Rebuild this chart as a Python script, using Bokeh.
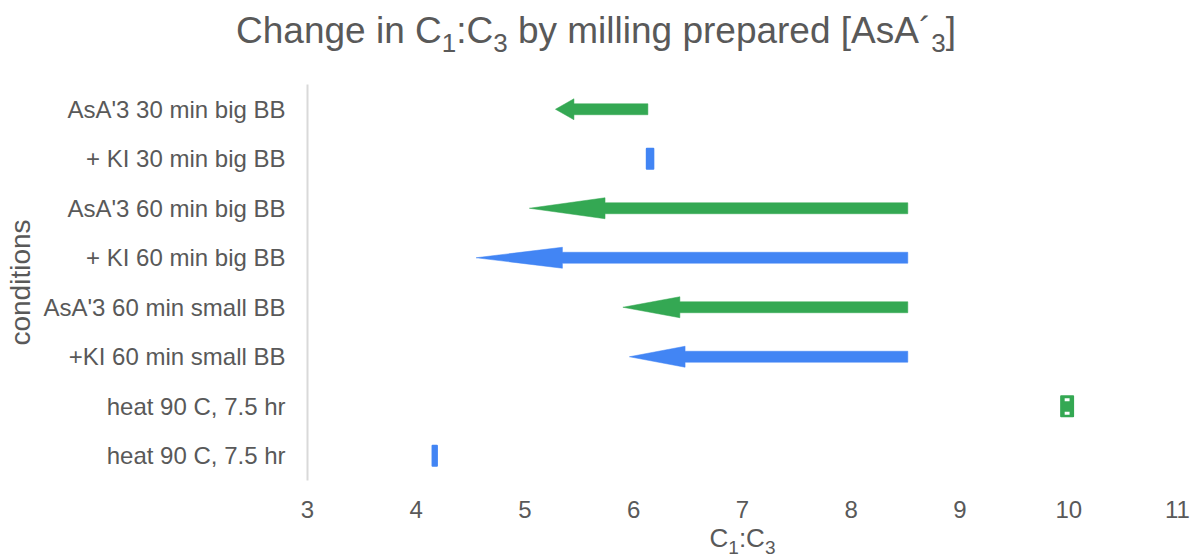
from bokeh.plotting import figure
from bokeh.models import Range1d, FixedTicker, ColumnDataSource
from bokeh.layouts import column
from bokeh.core.properties import value
from bokeh.embed import file_html
from bokeh.resources import INLINE

# C1:C3 ratio for each milling condition, listed top to bottom
conditions = [
    "AsA'3 30 min big BB",
    "+ KI 30 min big BB",
    "AsA'3 60 min big BB",
    "+ KI 60 min big BB",
    "AsA'3 60 min small BB",
    "+KI 60 min small BB",
    "heat 90 C, 7.5 hr",
    "heat 90 C, 7.5 hr",
]
ratio_start = [6.13, 6.18, 8.52, 8.52, 8.52, 8.52, 10.04, 4.19]
ratio_end = [5.28, 6.12, 5.04, 4.55, 5.90, 5.96, 9.93, 4.15]
GREEN = "#34a853"
BLUE = "#4285f4"
mark_colors = [GREEN, BLUE, GREEN, BLUE, GREEN, BLUE, GREEN, BLUE]
x_ticks = [3, 4, 5, 6, 7, 8, 9, 10, 11]

TEXT = "#595959"
FONT = "Liberation Sans"

W, H = 1191, 559
FRAME_H = 396
LEFT, RIGHT, BOTTOM = 307, 14, 43
TITLE_H = 84
MAIN_H = FRAME_H + BOTTOM
XLAB_H = H - TITLE_H - MAIN_H

# ---------------------------------------------------------------- main chart
p = figure(
    width=W, height=MAIN_H, title=None,
    x_range=Range1d(3, 11), y_range=Range1d(0.5, len(conditions) + 0.5),
    output_backend="svg", toolbar_location=None,
    min_border_left=LEFT, min_border_right=RIGHT,
    min_border_top=0, min_border_bottom=BOTTOM,
)
p.outline_line_color = None
p.xgrid.visible = False
p.ygrid.visible = False

# rows: first condition on top
rows = [len(conditions) - i for i in range(len(conditions))]

# arrows (shaft + triangular head) pointing from start to end
SHAFT = 0.111
HEAD = 0.212
xs, ys, cols = [], [], []
short_x, short_y, short_w, short_c = [], [], [], []
for y, s, e, c in zip(rows, ratio_start, ratio_end, mark_colors):
    if abs(s - e) < 0.15:
        short_x.append((s + e) / 2)
        short_y.append(y)
        short_w.append(abs(s - e))
        short_c.append(c)
        continue
    h = 0.2 * (s - e)
    xs.append([s, e + h, e + h, e, e + h, e + h, s])
    ys.append([y + SHAFT, y + SHAFT, y + HEAD, y, y - HEAD, y - SHAFT, y - SHAFT])
    cols.append(c)

p.patches(xs, ys, fill_color=cols, line_color=cols, line_width=0.5)

# changes too small to show an arrow: a short block
p.rect(short_x, short_y, width=short_w, height=0.40,
       fill_color=short_c, line_color=short_c, line_width=2, line_join="round")
notch_x = [x for x, w in zip(short_x, short_w) if w >= 0.1]
notch_y = [y for y, w in zip(short_y, short_w) if w >= 0.1]
for off in (-0.14, 0.13):
    p.rect(notch_x, [y + off for y in notch_y], width=0.045, height=0.06,
           fill_color="white", line_color=None)

# y axis: condition names
p.yaxis.ticker = FixedTicker(ticks=rows)
p.yaxis.major_label_overrides = {r: t for r, t in zip(rows, conditions)}
p.yaxis.major_label_text_font = FONT
p.yaxis.major_label_text_font_size = "24px"
p.yaxis.major_label_text_color = TEXT
p.yaxis.major_tick_line_color = None
p.yaxis.minor_tick_line_color = None
p.yaxis.major_tick_out = 0
p.yaxis.major_tick_in = 0
p.yaxis.major_label_standoff = 22
p.yaxis.axis_line_color = "#d9d9d9"
p.yaxis.axis_line_width = 2
p.yaxis.axis_label = "conditions"
p.yaxis.axis_label_text_font = FONT
p.yaxis.axis_label_text_font_size = "28px"
p.yaxis.axis_label_text_font_style = "normal"
p.yaxis.axis_label_text_color = TEXT
p.yaxis.axis_label_standoff = 4

# x axis: ratio scale
p.xaxis.ticker = FixedTicker(ticks=x_ticks)
p.xaxis.major_label_text_font = FONT
p.xaxis.major_label_text_font_size = "24px"
p.xaxis.major_label_text_color = TEXT
p.xaxis.major_tick_line_color = None
p.xaxis.minor_tick_line_color = None
p.xaxis.major_tick_out = 0
p.xaxis.major_tick_in = 0
p.xaxis.axis_line_color = None
p.xaxis.major_label_standoff = 20

# ------------------------------------------------ text strips with subscripts
# Arial / Liberation Sans advance widths (1/1000 em) for laying out runs
ADV = {" ": 278, "[": 278, "]": 278, ":": 278, "'": 191, "\u00b4": 333,
       "A": 667, "B": 667, "C": 722,
       "a": 556, "b": 556, "d": 556, "e": 556, "g": 556, "h": 556, "i": 222,
       "l": 222, "m": 833, "n": 556, "p": 556, "r": 333, "s": 500, "y": 500}
# the text glyph sets its anchor this far (in em) above the alphabetic baseline
BASELINE_SHIFT = 0.35


def adv(text, size):
    return sum(ADV.get(ch, 556) for ch in text) * size / 1000.0


def text_strip(runs, top, height, center_x, baseline, size, sub_size, sub_drop):
    """A bare strip whose data units are page pixels (y up), holding rich text runs."""
    f = figure(width=W, height=height, title=None,
               x_range=Range1d(0, W), y_range=Range1d(0, height),
               x_axis_location=None, y_axis_location=None,
               output_backend="svg", toolbar_location=None,
               min_border_left=0, min_border_right=0, min_border_top=0, min_border_bottom=0)
    f.outline_line_color = None
    f.xgrid.visible = False
    f.ygrid.visible = False
    total = sum(adv(t, sub_size if sub else size) for t, sub in runs)
    cursor = center_x - total / 2
    data = dict(x=[], y=[], text=[], size=[])
    for t, sub in runs:
        fs = sub_size if sub else size
        lead = len(t) - len(t.lstrip(" "))
        body = t.strip(" ")
        if body:
            base = baseline + (sub_drop if sub else 0)
            data["x"].append(cursor + adv(" " * lead, fs))
            data["y"].append(top + height - base + BASELINE_SHIFT * fs)
            data["text"].append(body)
            data["size"].append(f"{fs}px")
        cursor += adv(t, fs)
    f.text(x="x", y="y", text="text", text_font_size="size", source=ColumnDataSource(data),
           text_font=value(FONT), text_color=TEXT,
           text_align="left", text_baseline="alphabetic")
    return f


title_runs = [("Change in C", False), ("1", True), (":C", False), ("3", True),
              (" by milling prepared [AsA\u00b4", False), ("3", True), ("]", False)]
title_fig = text_strip(title_runs, 0, TITLE_H, W / 2, 43, 37, 26, 9)

x_title_runs = [("C", False), ("1", True), (":C", False), ("3", True)]
xlab_fig = text_strip(x_title_runs, TITLE_H + MAIN_H, XLAB_H,
                      LEFT + (W - LEFT - RIGHT) / 2, 547, 26, 19, 7)

# each strip sits in its own column so its frame spans its full width
layout = column(column(title_fig), column(p), column(xlab_fig), spacing=0)
open("out.html", "w").write(file_html(layout, INLINE))
